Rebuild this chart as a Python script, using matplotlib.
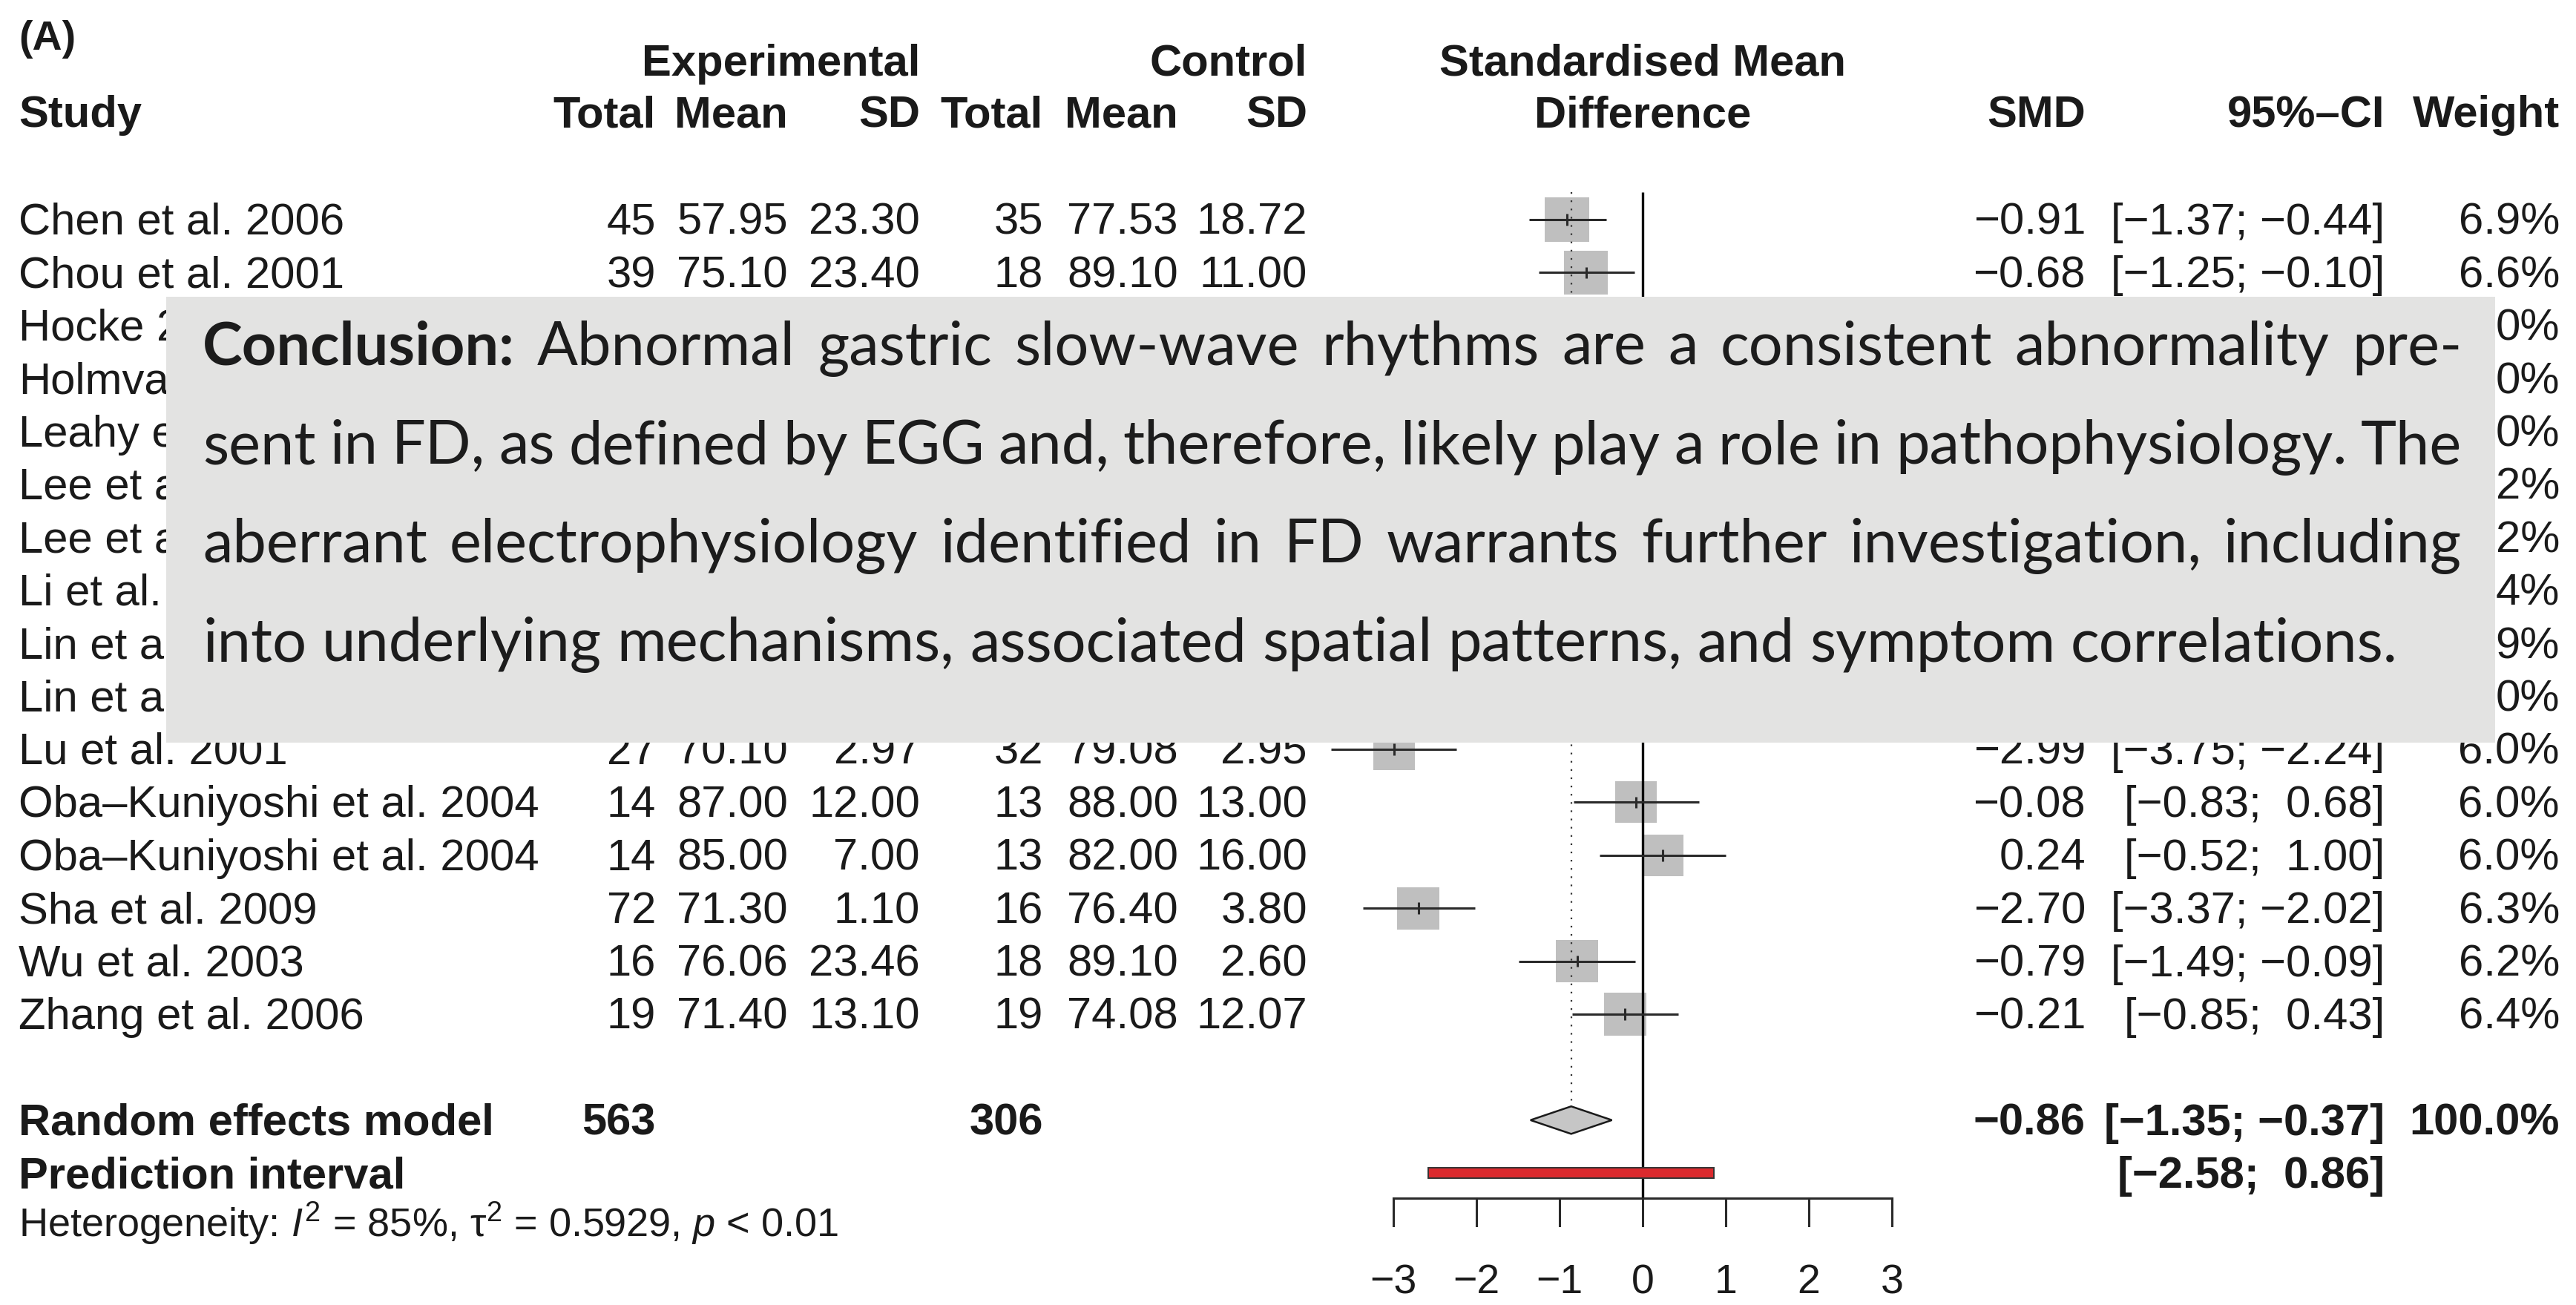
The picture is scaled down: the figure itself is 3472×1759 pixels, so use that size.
import numpy as np
import matplotlib
matplotlib.use('Agg')
import matplotlib.pyplot as plt
from matplotlib.patches import Rectangle, Polygon

plt.rcParams['font.family'] = ['Liberation Sans', 'DejaVu Sans']
plt.rcParams['mathtext.fontset'] = 'custom'
plt.rcParams['mathtext.rm'] = 'Liberation Sans'
plt.rcParams['mathtext.it'] = 'Liberation Sans:italic'

MINUS = '\u2212'

# Studies that are visible (row number in the forest plot)
study_rows = [0, 1, 10, 11, 12, 13, 14, 15]
studies = ['Chen et al. 2006', 'Chou et al. 2001', 'Lu et al. 2001',
           'Oba\u2013Kuniyoshi et al. 2004', 'Oba\u2013Kuniyoshi et al. 2004',
           'Sha et al. 2009', 'Wu et al. 2003', 'Zhang et al. 2006']
exp_n = [45, 39, 27, 14, 14, 72, 16, 19]
exp_mean = [57.95, 75.10, 70.10, 87.00, 85.00, 71.30, 76.06, 71.40]
exp_sd = [23.30, 23.40, 2.97, 12.00, 7.00, 1.10, 23.46, 13.10]
ctrl_n = [35, 18, 32, 13, 13, 16, 18, 19]
ctrl_mean = [77.53, 89.10, 79.08, 88.00, 82.00, 76.40, 89.10, 74.08]
ctrl_sd = [18.72, 11.00, 2.95, 13.00, 16.00, 3.80, 2.60, 12.07]
smd = [-0.91, -0.68, -2.99, -0.08, 0.24, -2.70, -0.79, -0.21]
ci_low = [-1.37, -1.25, -3.75, -0.83, -0.52, -3.37, -1.49, -0.85]
ci_high = [-0.44, -0.10, -2.24, 0.68, 1.00, -2.02, -0.09, 0.43]
weight = [6.9, 6.6, 6.0, 6.0, 6.0, 6.3, 6.2, 6.4]

# Rows hidden behind the conclusion box: only fragments show
hidden_rows = [2, 3, 4, 5, 6, 7, 8, 9]
hidden_names = ['Hocke 2', 'Holmva', 'Leahy e', 'Lee et a', 'Lee et a',
                'Li et al.', 'Lin et a', 'Lin et a']
hidden_weights = ['0%', '0%', '0%', '2%', '2%', '4%', '9%', '0%']

# Pooled results
total_exp = 563
total_ctrl = 306
pooled_smd = -0.86
pooled_low = -1.35
pooled_high = -0.37
pred_low = -2.58
pred_high = 0.86
ticks = [-3, -2, -1, 0, 1, 2, 3]

conclusion_lines = [
    'Conclusion: Abnormal gastric slow-wave rhythms are a consistent abnormality pre-',
    'sent in FD, as defined by EGG and, therefore, likely play a role in pathophysiology. The',
    'aberrant electrophysiology identified in FD warrants further investigation, including',
    'into underlying mechanisms, associated spatial patterns, and symptom correlations.',
]


def num(v, d=2):
    return f'{v:.{d}f}'.replace('-', MINUS)


def ci_text(lo, hi):
    pad = '  ' if hi >= 0 else ' '
    return f'[{num(lo)};{pad}{num(hi)}]'


# Layout: pixel units across, row units down
W, H = 3473, 1759
ROW0 = 296.0
ROW_H = 71.4
Y_TOP = -ROW0 / ROW_H
Y_BOT = (H - ROW0) / ROW_H
RE_ROW = 17
PI_ROW = 18
AXIS_Y = (1615 - ROW0) / ROW_H
BASE = 0.28
FS = 43
TXT = '#1a1a1a'

fig = plt.figure(figsize=(W / 100, H / 100), dpi=100)
ax = fig.add_axes([0, 0, 1, 1])
ax.set_xlim(0, W)
ax.set_ylim(Y_BOT, Y_TOP)
ax.axis('off')
ax.patch.set_visible(False)

F_LEFT, F_RIGHT = 1878, 2550
fax = fig.add_axes([F_LEFT / W, 0, (F_RIGHT - F_LEFT) / W, 1])
fax.set_xlim(-3, 3)
fax.set_ylim(Y_BOT, Y_TOP)
fax.axis('off')
fax.patch.set_visible(False)
ax.set_zorder(2)
fax.set_zorder(1)
PX_X = (F_RIGHT - F_LEFT) / 6.0

# Column right edges
col_x = {'en': 884, 'em': 1062, 'es': 1240, 'cn': 1406, 'cm': 1588,
         'cs': 1762, 'smd': 2811, 'ci': 3214, 'w': 3450}

# Headers
ax.text(25, -3.21, '(A)', fontsize=FS - 3, weight='bold', va='baseline', color=TXT)
ax.text(col_x['es'], -2.72, 'Experimental', fontsize=FS, weight='bold', ha='right', va='baseline', color=TXT)
ax.text(col_x['cs'], -2.72, 'Control', fontsize=FS, weight='bold', ha='right', va='baseline', color=TXT)
fax.text(0, -2.72, 'Standardised Mean', fontsize=FS, weight='bold', ha='center', va='baseline', color=TXT, clip_on=False)
fax.text(0, -1.75, 'Difference', fontsize=FS, weight='bold', ha='center', va='baseline', color=TXT, clip_on=False)
ax.text(25, -1.75, 'Study', fontsize=FS, weight='bold', va='baseline', color=TXT)
for key, lab in [('en', 'Total'), ('em', 'Mean'), ('es', 'SD'), ('cn', 'Total'),
                 ('cm', 'Mean'), ('cs', 'SD'), ('smd', 'SMD'), ('ci', '95%\u2013CI'), ('w', 'Weight')]:
    ax.text(col_x[key], -1.75, lab, fontsize=FS, weight='bold', ha='right', va='baseline', color=TXT)

# Study rows
for i, r in enumerate(study_rows):
    y = r + BASE
    ax.text(25, y, studies[i], fontsize=FS, va='baseline', color=TXT)
    vals = [('en', str(exp_n[i])), ('em', num(exp_mean[i])), ('es', num(exp_sd[i])),
            ('cn', str(ctrl_n[i])), ('cm', num(ctrl_mean[i])), ('cs', num(ctrl_sd[i])),
            ('smd', num(smd[i])), ('ci', ci_text(ci_low[i], ci_high[i])),
            ('w', num(weight[i], 1) + '%')]
    for key, s in vals:
        ax.text(col_x[key], y, s, fontsize=FS, ha='right', va='baseline', color=TXT)

for r, nm, wt in zip(hidden_rows, hidden_names, hidden_weights):
    ax.text(25, r + BASE, nm, fontsize=FS, va='baseline', color=TXT)
    ax.text(col_x['w'], r + BASE, wt, fontsize=FS, ha='right', va='baseline', color=TXT)

# Pooled rows
ax.text(25, RE_ROW + BASE, 'Random effects model', fontsize=FS, weight='bold', va='baseline', color=TXT)
ax.text(col_x['en'], RE_ROW + BASE, str(total_exp), fontsize=FS, weight='bold', ha='right', va='baseline', color=TXT)
ax.text(col_x['cn'], RE_ROW + BASE, str(total_ctrl), fontsize=FS, weight='bold', ha='right', va='baseline', color=TXT)
ax.text(col_x['smd'], RE_ROW + BASE, num(pooled_smd), fontsize=FS, weight='bold', ha='right', va='baseline', color=TXT)
ax.text(col_x['ci'], RE_ROW + BASE, ci_text(pooled_low, pooled_high), fontsize=FS, weight='bold', ha='right', va='baseline', color=TXT)
ax.text(col_x['w'], RE_ROW + BASE, '100.0%', fontsize=FS, weight='bold', ha='right', va='baseline', color=TXT)
ax.text(25, PI_ROW + BASE, 'Prediction interval', fontsize=FS, weight='bold', va='baseline', color=TXT)
ax.text(col_x['ci'], PI_ROW + BASE, ci_text(pred_low, pred_high), fontsize=FS, weight='bold', ha='right', va='baseline', color=TXT)
ax.text(25, 19.2, r'Heterogeneity: $\mathit{I}^2$ = 85%, τ$^2$ = 0.5929, $\mathit{p}$ < 0.01',
        fontsize=39, va='baseline', color=TXT)

# Forest plot
line_col = '#2a2a2a'
zero_top = -0.52
fax.plot([0, 0], [zero_top, AXIS_Y], color='black', lw=2.4, solid_capstyle='butt')
fax.plot([pooled_smd, pooled_smd], [zero_top, RE_ROW - 0.27], color='#333333', lw=1.6,
         linestyle=(0, (1, 4)))
for i, r in enumerate(study_rows):
    side = 60 * np.sqrt(weight[i] / 6.9)
    fax.add_patch(Rectangle((smd[i] - side / 2 / PX_X, r - side / 2 / ROW_H),
                            side / PX_X, side / ROW_H, facecolor='#bfbfbf',
                            edgecolor='none', clip_on=False))
    fax.plot([ci_low[i], ci_high[i]], [r, r], color=line_col, lw=2.2,
             solid_capstyle='butt', clip_on=False)
    fax.plot([smd[i], smd[i]], [r - 0.11, r + 0.11], color=line_col, lw=2.2,
             solid_capstyle='butt', clip_on=False)

fax.add_patch(Polygon([[pooled_low, RE_ROW], [pooled_smd, RE_ROW - 0.26],
                       [pooled_high, RE_ROW], [pooled_smd, RE_ROW + 0.26]],
                      closed=True, facecolor='#c6c6c6', edgecolor='#1a1a1a', lw=1.8))
fax.add_patch(Rectangle((pred_low, PI_ROW - 0.1), pred_high - pred_low, 0.2,
                        facecolor='#db2a2e', edgecolor='#333333', lw=1.4, zorder=3))

fax.plot([ticks[0], ticks[-1]], [AXIS_Y, AXIS_Y], color=line_col, lw=2.2, clip_on=False)
for t in ticks:
    fax.plot([t, t], [AXIS_Y, AXIS_Y + 0.52], color=line_col, lw=2.2, clip_on=False)
    fax.text(t, 20.27, str(t).replace('-', MINUS), fontsize=40, ha='center',
             va='baseline', color=TXT, clip_on=False)

# Conclusion overlay box
BOX_L, BOX_R = 224, 3363
box_top = (400 - ROW0) / ROW_H
box_bot = (1001 - ROW0) / ROW_H
ax.add_patch(Rectangle((BOX_L, box_top), BOX_R - BOX_L, box_bot - box_top,
                       facecolor='#e3e3e2', edgecolor='none', zorder=5))

renderer = fig.canvas.get_renderer()
BOX_FS = 58.5
TEXT_L, TEXT_R = 273, 3318
line_base = [(492 - ROW0) / ROW_H + k * 133 / ROW_H for k in range(4)]

probe1 = ax.text(0, 0, 'x x', fontsize=BOX_FS, family='Lato')
probe2 = ax.text(0, 0, 'xx', fontsize=BOX_FS, family='Lato')
space_w = probe1.get_window_extent(renderer).width - probe2.get_window_extent(renderer).width
probe1.remove()
probe2.remove()

for k, line in enumerate(conclusion_lines):
    words = line.split(' ')
    items = []
    for j, wd in enumerate(words):
        bold = (k == 0 and j == 0)
        t = ax.text(0, line_base[k], wd, fontsize=BOX_FS, family='Lato',
                    weight='bold' if bold else 'normal', va='baseline', ha='left',
                    color='#1c1c1c', zorder=6)
        items.append((t, t.get_window_extent(renderer).width))
    total = sum(w for _, w in items)
    justify = k < len(conclusion_lines) - 1
    gap = (TEXT_R - TEXT_L - total) / (len(items) - 1) if justify else space_w
    x = TEXT_L
    for t, w in items:
        t.set_x(x)
        x += w + gap

fig.savefig('out.png', dpi=100, facecolor='white')
